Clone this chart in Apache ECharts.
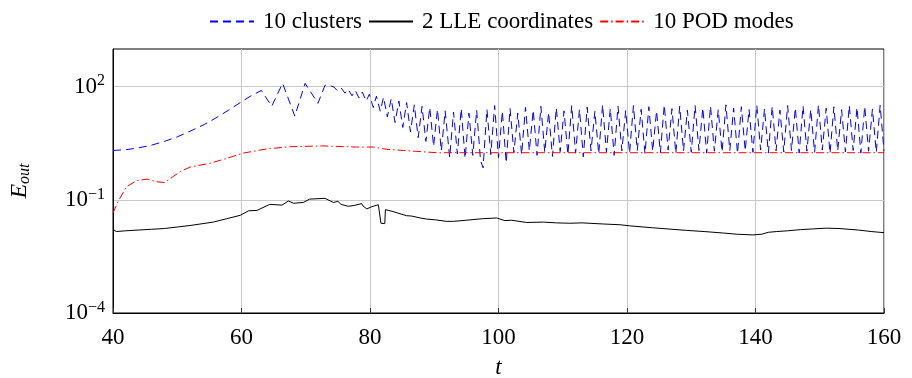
<!DOCTYPE html>
<html>
<head>
<meta charset="utf-8">
<script src="https://cdn.jsdelivr.net/npm/echarts@6.0.0/dist/echarts.min.js"></script>
<style>
  html, body { margin: 0; padding: 0; background: #fff; }
  #chart { width: 912px; height: 378px; }
</style>
</head>
<body>
<div id="chart"></div>
<script>
// values are log10(E_out)
const seriesNames = ["10 clusters", "2 LLE coordinates", "10 POD modes"];
const xTicks = [40, 60, 80, 100, 120, 140, 160];
const yTicksShown = [-4, -1, 2];

const clusters = [
  [40, 0.31], [42, 0.33], [44, 0.38], [46, 0.45], [48, 0.55], [50, 0.67], [52, 0.82], [54, 0.98],
  [56, 1.17], [58, 1.38], [60, 1.6], [61.5, 1.76], [63.1, 1.9], [64.7, 1.48], [66.4, 2.09], [68.3, 1.22],
  [69.9, 2.09], [71.9, 1.56], [73.0, 2.04], [73.8, 2.03], [74.4, 1.99], [74.9, 1.9], [75.5, 1.97], [76.1, 1.83],
  [76.6, 1.93], [77.2, 1.76], [77.7, 1.9], [78.3, 1.7], [78.8, 1.86], [79.4, 1.62], [79.9, 1.8], [80.5, 1.45],
  [81.0, 1.75], [81.6, 1.35], [82.1, 1.72], [82.7, 1.2], [83.3, 1.68], [83.9, 1.05], [84.5, 1.62], [85.1, 0.92],
  [85.7, 1.58], [86.3, 0.8], [86.9, 1.52], [87.5, 0.65], [88.1, 1.48], [88.7, 0.55], [89.3, 1.45], [89.9, 0.42],
  [90.5, 1.4], [91.1, 0.3], [91.7, 1.36], [92.4, 0.12], [93.0, 1.33], [93.6, 0.22], [94.2, 1.42], [94.8, 0.1],
  [95.4, 1.3], [96.0, 0.18], [96.6, 1.38], [97.2, 0.05], [97.6, -0.15], [98.2, 1.4], [98.8, 0.2], [99.4, 1.5],
  [100.0, 0.12], [100.6, 1.35], [101.2, -0.02], [101.8, 1.42], [102.4, 0.25], [103.0, 1.3], [103.6, 0.2], [104.2, 1.45],
  [104.8, 0.3], [105.4, 1.38], [106.0, 0.18], [106.6, 1.48], [107.2, 0.26], [107.8, 1.32], [108.4, 0.15], [109.0, 1.44],
  [109.6, 0.28], [110.2, 1.36], [110.8, 0.2], [111.4, 1.5], [112.0, 0.24], [112.6, 1.4], [113.2, 0.14], [113.8, 1.46],
  [114.4, 0.3], [115.0, 1.35], [115.6, 0.22], [116.2, 1.52], [116.8, 0.27], [117.4, 1.42], [118.0, 0.18], [118.6, 1.48],
  [119.2, 0.3], [119.8, 1.37], [120.4, 0.24], [121.0, 1.5], [121.6, 0.31], [122.2, 1.4], [122.8, 0.22], [123.4, 1.47],
  [124.0, 0.29], [124.6, 1.36], [125.2, 0.25], [125.8, 1.52], [126.4, 0.32], [127.0, 1.42], [127.6, 0.23], [128.2, 1.48],
  [128.8, 0.3], [129.4, 1.38], [130.0, 0.26], [130.6, 1.5], [131.2, 0.31], [131.8, 1.44], [132.4, 0.24], [133.0, 1.49],
  [133.6, 0.29], [134.2, 1.39], [134.8, 0.27], [135.4, 1.52], [136.0, 0.31], [136.6, 1.43], [137.2, 0.23], [137.8, 1.47],
  [138.4, 0.3], [139.0, 1.4], [139.6, 0.26], [140.2, 1.51], [140.8, 0.32], [141.4, 1.42], [142.0, 0.24], [142.6, 1.48],
  [143.2, 0.3], [143.8, 1.38], [144.4, 0.27], [145.0, 1.5], [145.6, 0.31], [146.2, 1.44], [146.8, 0.24], [147.4, 1.49],
  [148.0, 0.29], [148.6, 1.4], [149.2, 0.26], [149.8, 1.52], [150.4, 0.32], [151.0, 1.43], [151.6, 0.23], [152.2, 1.47],
  [152.8, 0.3], [153.4, 1.39], [154.0, 0.27], [154.6, 1.5], [155.2, 0.31], [155.8, 1.45], [156.4, 0.24], [157.0, 1.48],
  [157.6, 0.29], [158.2, 1.41], [158.8, 0.26], [159.4, 1.51], [160.0, 0.3]
];

const lle = [
  [40, -1.78], [40.5, -1.84], [42, -1.82], [44, -1.8], [46, -1.78], [48, -1.76], [50, -1.72], [52, -1.68],
  [54, -1.63], [55.6, -1.59], [57.7, -1.5], [59.8, -1.41], [61.1, -1.29], [62.4, -1.28], [64.4, -1.12], [66.3, -1.14],
  [67.3, -1.03], [68.1, -1.09], [69.6, -1.07], [70.6, -0.98], [73.0, -0.96], [74.3, -1.07], [75.0, -1.04], [75.5, -1.12],
  [76.6, -1.17], [77.5, -1.15], [78.7, -1.1], [78.9, -1.16], [79.5, -1.24], [80.3, -1.18], [81.3, -1.13], [81.6, -1.15],
  [81.7, -1.62], [82.3, -1.63], [82.4, -1.26], [83.6, -1.31], [84.5, -1.36], [85.7, -1.42], [86.5, -1.43], [87.8, -1.48],
  [88.8, -1.51], [90.2, -1.53], [91.9, -1.57], [93.0, -1.57], [95, -1.54], [97.5, -1.5], [99.7, -1.48], [101, -1.55],
  [102, -1.54], [104.4, -1.6], [107, -1.59], [109, -1.61], [111.1, -1.62], [113, -1.61], [116.3, -1.64], [118.9, -1.66],
  [120.5, -1.69], [124, -1.74], [127, -1.78], [129.3, -1.81], [132, -1.84], [135, -1.88], [137, -1.91], [139.6, -1.93],
  [141, -1.91], [142, -1.86], [143.3, -1.84], [145, -1.82], [147, -1.79], [149, -1.77], [151, -1.75], [151.3, -1.72],
  [153, -1.76], [156, -1.8], [158, -1.84], [160, -1.87]
];

const pod = [
  [40, -1.35], [40.8, -1.04], [42.1, -0.65], [43.7, -0.49], [45.3, -0.45], [46.8, -0.52], [48.1, -0.54], [49.2, -0.4],
  [50.5, -0.25], [52, -0.13], [55.1, -0.03], [57.7, 0.1], [60.3, 0.24], [63.9, 0.35], [67.6, 0.41], [72.7, 0.43],
  [77.9, 0.4], [80.5, 0.4], [82.6, 0.34], [85.2, 0.31], [90.4, 0.25], [100, 0.25], [120, 0.25], [140, 0.25], [160, 0.25]
];

const serif = "Liberation Serif";
const chart = echarts.init(document.getElementById("chart"), null, { renderer: "canvas" });

const lineSeries = (name, data, color, type) => ({
  name,
  type: "line",
  data,
  showSymbol: false,
  symbol: "none",
  animation: false,
  lineStyle: { color, width: 1, type },
  itemStyle: { color }
});

const option = {
  animation: false,
  backgroundColor: "#fff",
  legend: {
    top: 5,
    left: 204,
    itemWidth: 44,
    itemHeight: 10,
    itemGap: 6,
    itemStyle: { opacity: 0 },
    textStyle: { fontFamily: serif, fontSize: 23, color: "#000", padding: [0, 0, 0, 4] },
    data: seriesNames
  },
  grid: {
    left: 113, right: 28, top: 49, bottom: 65,
    outerBoundsMode: "none",
    show: true, borderColor: "#000", borderWidth: 1
  },
  xAxis: {
    type: "value",
    min: xTicks[0],
    max: xTicks[xTicks.length - 1],
    interval: 20,
    name: "t",
    nameLocation: "middle",
    nameGap: 43,
    nameTextStyle: { fontFamily: serif, fontSize: 23, fontStyle: "italic", color: "#000" },
    axisLine: { show: true, onZero: false, lineStyle: { color: "#000", width: 1 } },
    axisTick: { show: true, inside: true, length: 5, lineStyle: { color: "#333" } },
    axisLabel: { fontFamily: serif, fontSize: 23, color: "#000", margin: 13 },
    splitLine: { show: true, lineStyle: { color: "#c8c8c8", width: 1 } }
  },
  yAxis: {
    type: "value",
    min: -4,
    max: 3,
    interval: 1,
    name: "{i|E}{sub|out}",
    nameLocation: "middle",
    nameRotate: 90,
    nameGap: 80,
    nameTextStyle: {
      rich: {
        i: { fontFamily: serif, fontSize: 24, fontStyle: "italic", color: "#000" },
        sub: { fontFamily: serif, fontSize: 16, fontStyle: "italic", color: "#000", padding: [10, 0, 0, 0] }
      }
    },
    axisLine: { show: true, onZero: false, lineStyle: { color: "#000", width: 1 } },
    axisTick: { show: false },
    axisLabel: {
      margin: 8,
      formatter: (v) => yTicksShown.indexOf(v) >= 0 ? "{b|10}{s|" + String(v).replace("-", "\u2212") + "}" : "",
      rich: {
        b: { fontFamily: serif, fontSize: 23, color: "#000" },
        s: { fontFamily: serif, fontSize: 16, color: "#000", padding: [0, 0, 11, 0] }
      }
    },
    // grid lines only on every third decade (-4, -1, 2)
    splitLine: { show: true, lineStyle: { color: ["#c8c8c8", "rgba(0,0,0,0)", "rgba(0,0,0,0)"], width: 1 } }
  },
  series: [
    lineSeries(seriesNames[0], clusters, "#0000ff", [8, 5]),
    lineSeries(seriesNames[1], lle, "#000000", "solid"),
    lineSeries(seriesNames[2], pod, "#ff0000", [8, 3, 1.5, 3])
  ]
};

chart.setOption(option);
</script>
</body>
</html>
